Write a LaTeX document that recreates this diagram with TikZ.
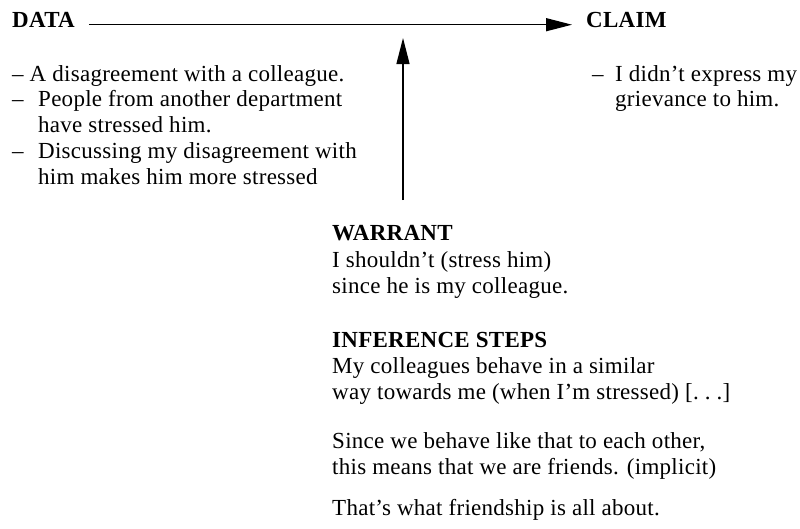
\documentclass[tikz,border=0pt]{standalone}
\usepackage{fontspec}
\setmainfont{Liberation Serif}[LetterSpace=1.2]
\usetikzlibrary{arrows.meta}

\tikzset{
  txt/.style={anchor=base west, inner sep=0pt, font=\fontsize{23}{26.5}\selectfont},
  hd/.style={txt, font=\fontsize{23}{26.5}\selectfont\bfseries},
  arr/.style={-{Triangle[length=26pt,width=13pt]}, line width=1.3pt},
}
\newcommand{\idash}[1]{\makebox[#1][l]{--}}

\begin{document}
\begin{tikzpicture}[x=1pt, y=-1pt]
\useasboundingbox (0,0) rectangle (800,528);

% data -> claim
\node[hd] (data) at (12,27) {DATA};
\node[hd] (claim) at (586,27) {CLAIM};
\draw[arr] ([xshift=14pt]data.mid east) -- ([xshift=-14pt]claim.mid west);

\node[txt, font=\fontsize{23}{25.8}\selectfont] (items) at (12,81) {\begin{tabular}[t]{@{}l@{}}
-- A disagreement with a colleague.\\
\idash{26pt}People from another department\\
\hspace*{26pt}have stressed him.\\
\idash{26pt}Discussing my disagreement with\\
\hspace*{26pt}him makes him more stressed
\end{tabular}};

\node[txt, font=\fontsize{23}{25.8}\selectfont] (grievance) at (592,81) {\begin{tabular}[t]{@{}l@{}}
\idash{23pt}I didn't express my\\
\hspace*{23pt}grievance to him.
\end{tabular}};

% warrant
\coordinate (wfoot) at (403,200);
\coordinate (wtip) at (403,38);
\draw[arr] (wfoot) -- (wtip);

\node[hd] (warrant) at (332,240) {WARRANT};
\node[txt] (wtext) at (332,267) {\begin{tabular}[t]{@{}l@{}}
I shouldn't (stress him)\\
since he is my colleague.
\end{tabular}};

% inference steps
\node[hd] (steps) at (332,347) {INFERENCE STEPS};
\node[txt] (step1) at (332,373) {\begin{tabular}[t]{@{}l@{}}
My colleagues behave in a similar\\
way towards me (when I'm stressed) [.~.~.]
\end{tabular}};
\node[txt] (step2) at (332,448) {\begin{tabular}[t]{@{}l@{}}
Since we behave like that to each other,\\
this means that we are friends. (implicit)
\end{tabular}};
\node[txt] (step3) at (332,515) {That's what friendship is all about.};
\end{tikzpicture}
\end{document}
